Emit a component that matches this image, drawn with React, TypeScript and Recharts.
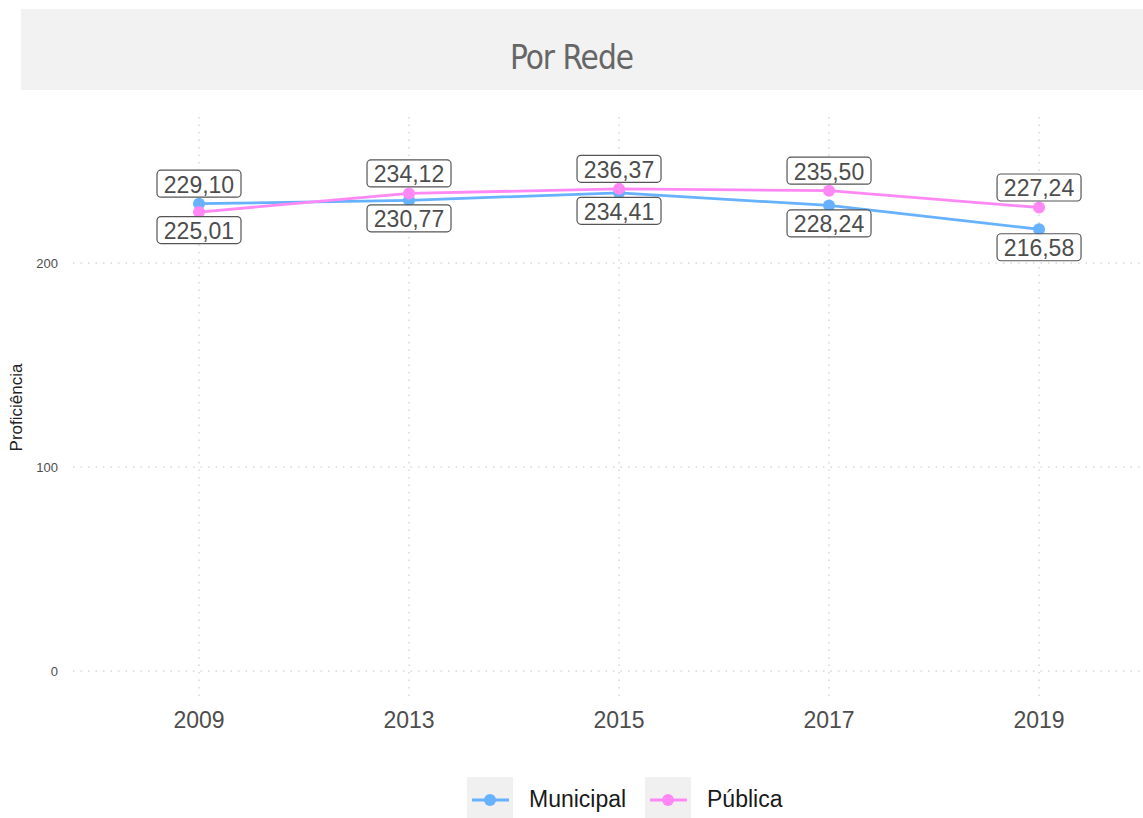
import { LineChart, Line, XAxis, YAxis, CartesianGrid, LabelList } from 'recharts'

const years = ['2009', '2013', '2015', '2017', '2019']
const municipal = [229.1, 230.77, 234.41, 228.24, 216.58]
const publica = [225.01, 234.12, 236.37, 235.5, 227.24]
const yTicks = [0, 100, 200]
const xTicks = [0, 1, 2, 3, 4]

const BLUE = '#66B2FF'
const PINK = '#FF88F5'
const FONT = "'Liberation Sans', Arial, Helvetica, sans-serif"

const data = years.map((year, i) => ({
  i,
  year,
  municipal: municipal[i],
  publica: publica[i],
}))

const fmt = (v: number) => v.toFixed(2).replace('.', ',')

// boxed value label, above the point for the higher series, below for the lower one
function makeLabel(own: number[], other: number[]) {
  return (props: any) => {
    const { x, y, index } = props
    if (x == null || y == null) return null
    const above = own[index] >= other[index]
    const cy = above ? y - 20 : y + 18
    const w = 84
    const h = 27
    return (
      <g>
        <rect
          x={x - w / 2}
          y={cy - h / 2}
          width={w}
          height={h}
          rx={4}
          ry={4}
          fill="rgba(255,255,255,0.85)"
          stroke="#555"
          strokeWidth={1.2}
        />
        <text
          x={x}
          y={cy + 1}
          textAnchor="middle"
          dominantBaseline="central"
          fontSize={23}
          fontFamily={FONT}
          fill="#4d4d4d"
        >
          {fmt(own[index])}
        </text>
      </g>
    )
  }
}

function LegendKey({ color, label, left }: { color: string; label: string; left: number }) {
  return (
    <div style={{ position: 'absolute', left, top: 777, height: 41, display: 'flex', alignItems: 'center' }}>
      <svg width={46} height={41} style={{ background: '#F0F0F0', display: 'block' }}>
        <line x1={5} y1={23} x2={42} y2={23} stroke={color} strokeWidth={2.8} />
        <circle cx={23} cy={23} r={6} fill={color} />
      </svg>
      <span style={{ marginLeft: 16, fontSize: 23, fontFamily: FONT, color: '#1a1a1a', marginTop: 4 }}>{label}</span>
    </div>
  )
}

export default function App() {
  return (
    <div style={{ position: 'absolute', left: 0, top: 0, width: 1143, height: 818, background: '#fff', overflow: 'hidden' }}>
      <div
        style={{
          position: 'absolute',
          left: 21,
          top: 9,
          width: 1122,
          height: 81,
          background: '#F2F2F2',
        }}
      />
      <div
        style={{
          position: 'absolute',
          left: 0,
          width: 1143,
          top: 36,
          textAlign: 'center',
          fontSize: 33,
          letterSpacing: -1,
          color: '#666',
          fontFamily: "'Liberation Sans Narrow', 'DejaVu Sans Condensed', 'Roboto Condensed', sans-serif",
          lineHeight: '44px',
        }}
      >
        Por Rede
      </div>
      <div style={{ position: 'absolute', left: 0, top: 0 }}>
        <LineChart width={1143} height={818} data={data} margin={{ top: 117, right: 0, bottom: 90, left: 0 }}>
          <CartesianGrid stroke="#c4c4c4" strokeDasharray="1.5 6" syncWithTicks />
          <XAxis
            dataKey="i"
            type="number"
            domain={[-0.6, 4.495]}
            ticks={xTicks}
            tickFormatter={(v: number) => years[v]}
            axisLine={false}
            tickLine={false}
            tickSize={0}
            tickMargin={14}
            height={30}
            allowDataOverflow
            tick={{ fontSize: 23, fill: '#4d4d4d', fontFamily: FONT }}
          />
          <YAxis
            type="number"
            domain={[-13.2, 271.6]}
            ticks={yTicks}
            allowDataOverflow
            axisLine={false}
            tickLine={false}
            tickSize={0}
            tickMargin={15}
            width={73}
            tick={{ fontSize: 13, fill: '#4d4d4d', fontFamily: FONT }}
            label={{
              value: 'Proficiência',
              angle: -90,
              position: 'insideLeft',
              offset: 16,
              style: { fontSize: 17, fill: '#222', fontFamily: FONT, textAnchor: 'middle' },
            }}
          />
          <Line
            dataKey="municipal"
            stroke={BLUE}
            strokeWidth={2.8}
            dot={{ r: 6, fill: BLUE, stroke: 'none' }}
            activeDot={false}
            type="linear"
            isAnimationActive={false}
          />
          <Line
            dataKey="publica"
            stroke={PINK}
            strokeWidth={2.8}
            dot={{ r: 6, fill: PINK, stroke: 'none' }}
            activeDot={false}
            type="linear"
            isAnimationActive={false}
          />
          <Line dataKey="municipal" stroke="none" dot={false} activeDot={false} legendType="none" isAnimationActive={false}>
            <LabelList dataKey="municipal" content={makeLabel(municipal, publica)} />
          </Line>
          <Line dataKey="publica" stroke="none" dot={false} activeDot={false} legendType="none" isAnimationActive={false}>
            <LabelList dataKey="publica" content={makeLabel(publica, municipal)} />
          </Line>
        </LineChart>
      </div>
      <LegendKey color={BLUE} label="Municipal" left={467} />
      <LegendKey color={PINK} label="Pública" left={645} />
    </div>
  )
}
